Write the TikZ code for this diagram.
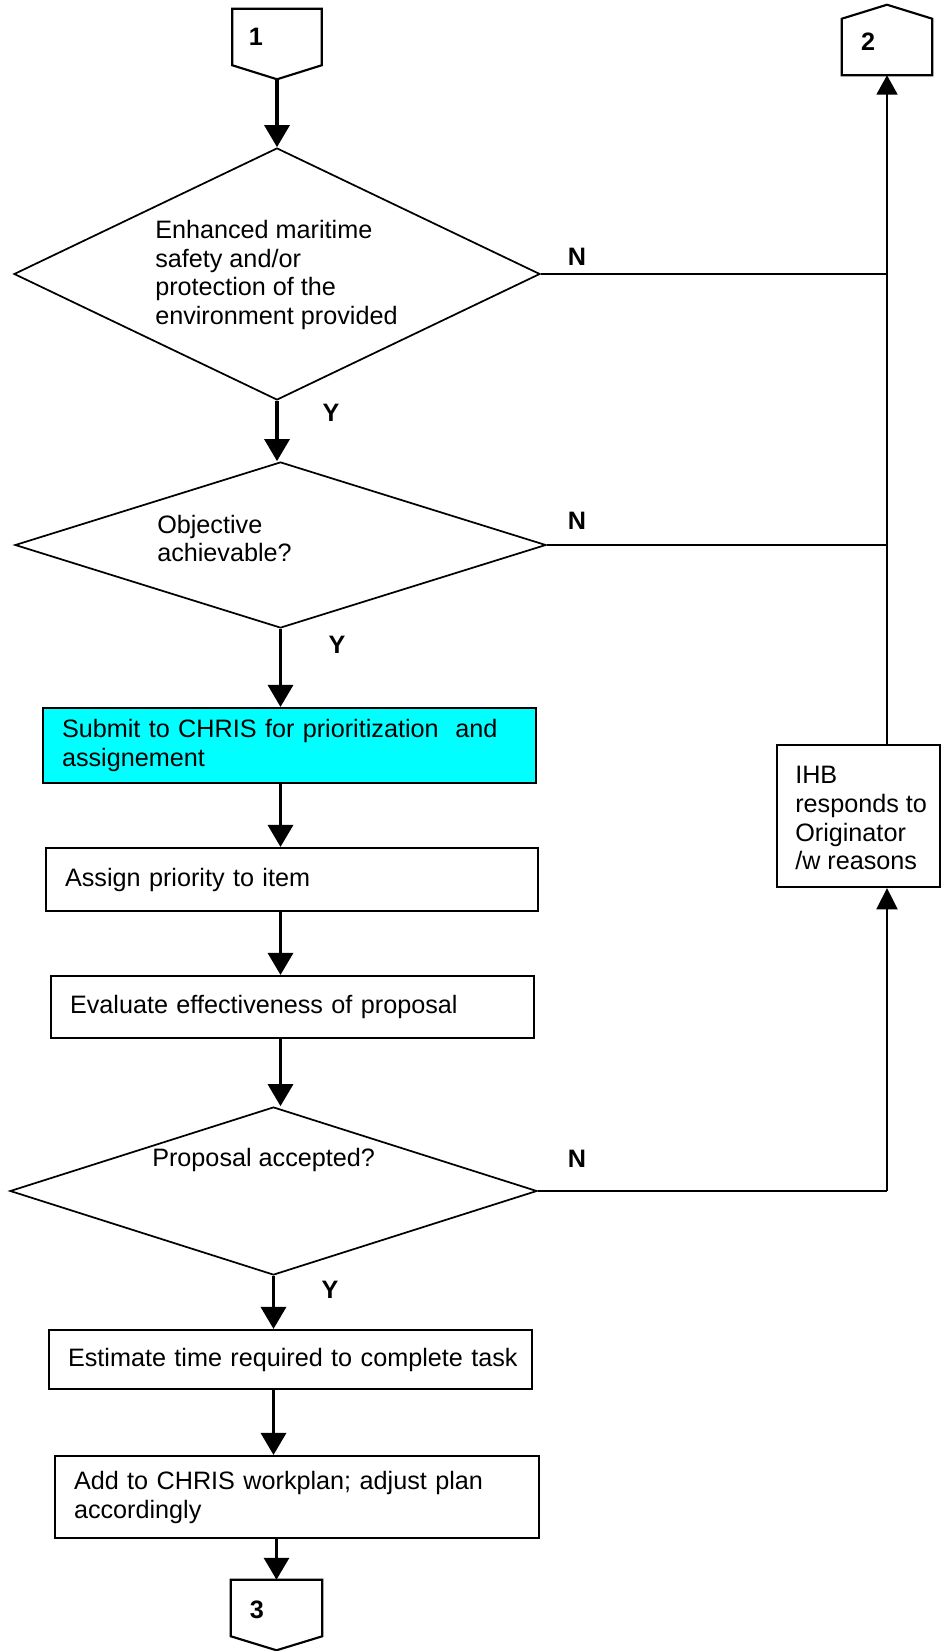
\documentclass[tikz,border=0pt]{standalone}
\usepackage{fontspec}
\setmainfont{Liberation Sans}
\usetikzlibrary{arrows.meta,shapes.geometric,calc}
\definecolor{subcyan}{HTML}{00FFFF}
\begin{document}
\begin{tikzpicture}[x=0.75pt,y=-0.75pt,
  bodyfont/.style={font=\fontsize{18.9pt}{21.7pt}\selectfont},
  txt/.style={bodyfont, inner sep=0pt, align=left, anchor=west},
  lbl/.style={font=\fontsize{18.9pt}{21.7pt}\selectfont\bfseries, inner sep=0pt},
  dia/.style={diamond, draw, line width=1.3pt, inner sep=0pt},
  procbox/.style={rectangle, draw, line width=1.6pt, inner xsep=14.25pt, inner ysep=0pt, align=left, bodyfont},
  connbox/.style={rectangle, inner sep=0pt, minimum width=67pt, minimum height=52.5pt},
  connline/.style={line width=1.6pt, line join=miter},
  flow/.style={line width=2.5pt, -{Triangle[width=18.75pt,length=16.5pt]}},
  nline/.style={line width=2pt},
  upthin/.style={line width=1.2pt, -{Triangle[width=15.75pt,length=14.5pt]}},
  upthick/.style={line width=1.8pt, -{Triangle[width=15.75pt,length=16pt]}}
]
\useasboundingbox (0,0) rectangle (941,1651);
\fill[white] (0,0) rectangle (941,1651);

% off-page connectors
\node[connbox, minimum width=66.75pt] (b1) at (277,44) {};
\draw[connline] (b1.north west) -- (b1.north east) -- ([yshift=10.5pt]b1.south east) -- (b1.south) -- ([yshift=10.5pt]b1.south west) -- cycle;
\node[lbl] (b1l) at (256,37) {1};

\node[connbox, minimum width=67.5pt] (b2) at (887,40) {};
\draw[connline] (b2.south west) -- (b2.south east) -- ([yshift=-10.5pt]b2.north east) -- (b2.north) -- ([yshift=-10.5pt]b2.north west) -- cycle;
\node[lbl] (b2l) at (868,42) {2};

\node[connbox, minimum width=68.25pt] (b3) at (276.5,1615) {};
\draw[connline] (b3.north west) -- (b3.north east) -- ([yshift=10.5pt]b3.south east) -- (b3.south) -- ([yshift=10.5pt]b3.south west) -- cycle;
\node[lbl] (b3l) at (257,1610) {3};

% decisions
\node[dia, minimum width=394.5pt, minimum height=189pt] (d1) at (277,274) {};
\node[txt] (d1t) at (155,275) {Enhanced maritime\\safety and/or\\protection of the\\environment provided};

\node[dia, minimum width=398.25pt, minimum height=124.5pt] (d2) at (280.5,545) {};
\node[txt] (d2t) at (157,538.5) {Objective\\achievable?};

\node[dia, minimum width=395.25pt, minimum height=126pt] (d3) at (273.5,1191) {};
\node[txt] (d3t) at (152,1160) {Proposal accepted?};

% process boxes
\node[procbox, fill=subcyan, minimum width=369.75pt, minimum height=56.25pt, text width=341.25pt] (sub) at (289.5,745.5) {Submit to CHRIS for prioritization\ \ and\\assignement};
\node[procbox, minimum width=369pt, minimum height=47.25pt, text width=340.5pt] (asg) at (292,879.5) {Assign priority to item};
\node[procbox, minimum width=362.25pt, minimum height=46.5pt, text width=333.75pt] (evl) at (292.5,1007) {Evaluate effectiveness of proposal};
\node[procbox, minimum width=362.25pt, minimum height=44.25pt, text width=333.75pt] (est) at (290.5,1359.5) {\mbox{Estimate time required to complete task}};
\node[procbox, minimum width=363pt, minimum height=61.5pt, text width=334.5pt] (add) at (297,1497) {Add to CHRIS workplan; adjust plan\\accordingly};
\node[procbox, inner xsep=0pt, minimum width=122.25pt, minimum height=106.5pt] (ihb) at (858.5,816) {};
\node[txt] (ihbt) at (795,818) {IHB\\responds to\\Originator\\/w reasons};

% labels
\node[lbl] (n1) at (577,257) {N};
\node[lbl] (n2) at (577,521) {N};
\node[lbl] (n3) at (577,1159) {N};
\node[lbl] (y1) at (331,413) {Y};
\node[lbl] (y2) at (337,645) {Y};
\node[lbl] (y3) at (330,1290) {Y};

% main flow
\draw[flow] (b1.south) -- (d1.north);
\draw[flow] (d1.south) -- (d1.south |- d2.north);
\draw[flow] (d2.south) -- (d2.south |- sub.north);
\draw[flow] (d2.south |- sub.south) -- (d2.south |- asg.north);
\draw[flow] (d2.south |- asg.south) -- (d2.south |- evl.north);
\draw[flow] (d2.south |- evl.south) -- (d2.south |- d3.north);
\draw[flow] (d3.south) -- (d3.south |- est.north);
\draw[flow] (d3.south |- est.south) -- (d3.south |- add.north);
\draw[flow] (b3.north |- add.south) -- (b3.north);

% N branches
\draw[nline] (d1.east) -- (d1.east -| b2.south);
\draw[nline] (d2.east) -- (d2.east -| b2.south);
\draw[nline] (d3.east) -- (d3.east -| b2.south);
\draw[upthin] (ihb.north -| b2.south) -- (b2.south);
\draw[upthick] (d3.east -| b2.south) -- (ihb.south -| b2.south);
\end{tikzpicture}
\end{document}
